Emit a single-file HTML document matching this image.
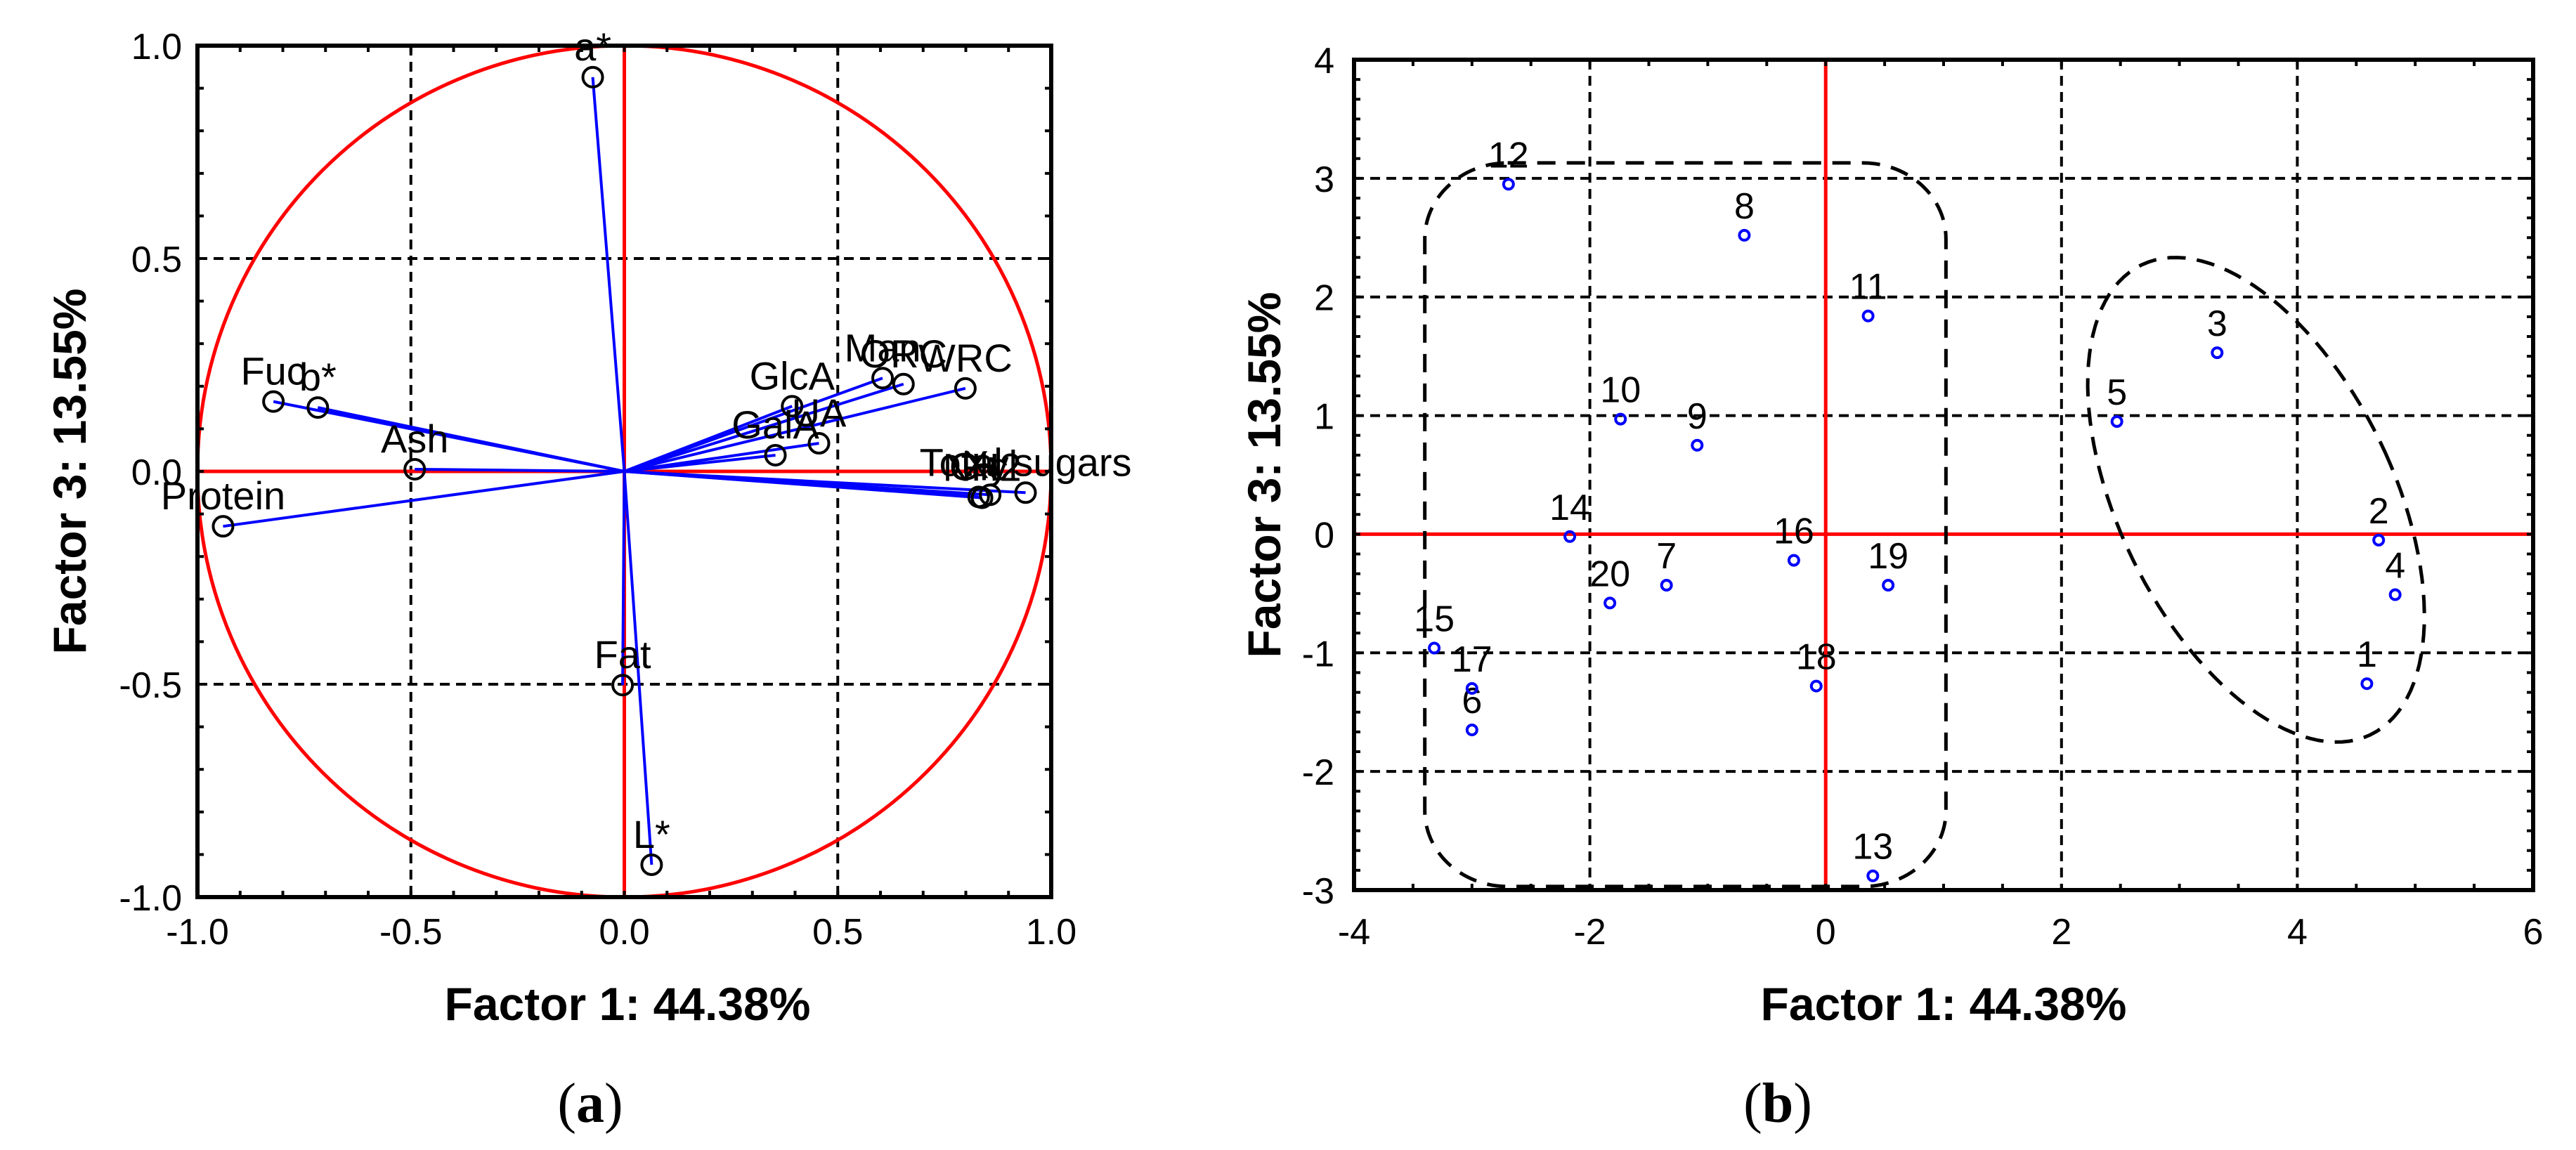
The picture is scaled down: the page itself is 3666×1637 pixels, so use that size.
<!DOCTYPE html>
<html><head><meta charset="utf-8"><style>
html,body{margin:0;padding:0;background:#fff;}
svg{display:block;}
text{font-family:"Liberation Sans",sans-serif;}
</style></head><body>
<svg id="fig" width="3666" height="1637" viewBox="0 0 3666 1637" xmlns="http://www.w3.org/2000/svg">
<g id="pa"></g>
<g id="pb"></g>
<text x="893" y="1452" font-size="66" font-weight="bold" text-anchor="middle">Factor 1: 44.38%</text>
<text x="2766" y="1452" font-size="66" font-weight="bold" text-anchor="middle">Factor 1: 44.38%</text>
<text transform="translate(122,671) rotate(-90)" font-size="66" font-weight="bold" text-anchor="middle">Factor 3: 13.55%</text>
<text transform="translate(1822,676) rotate(-90)" font-size="66" font-weight="bold" text-anchor="middle">Factor 3: 13.55%</text>
<text x="840" y="1597" font-size="80" text-anchor="middle" style="font-family:'Liberation Serif',serif">(<tspan font-weight="bold">a</tspan>)</text>
<text x="2530" y="1597" font-size="80" text-anchor="middle" style="font-family:'Liberation Serif',serif">(<tspan font-weight="bold">b</tspan>)</text>
</svg>
<script>
// ---- Panel A data (loadings) ----
const varNames = ["a*","Fuc","b*","Ash","Protein","Fat","L*","GalA","GlcA","UA","Man","ORC","WRC","Glc","Xyl","NH2","Total sugars"];
const varF1 = [-0.074,-0.822,-0.718,-0.491,-0.940,-0.004,0.064,0.354,0.393,0.456,0.605,0.654,0.799,0.830,0.857,0.838,0.940];
const varF3 = [0.926,0.164,0.150,0.005,-0.129,-0.502,-0.924,0.038,0.153,0.066,0.219,0.205,0.195,-0.060,-0.055,-0.062,-0.050];
const aTicks = [-1.0,-0.5,0.0,0.5,1.0];
const aTickLabels = ["-1.0","-0.5","0.0","0.5","1.0"];
// ---- Panel B data (scores) ----
const obsLabels = ["1","2","3","4","5","6","7","8","9","10","11","12","13","14","15","16","17","18","19","20"];
const obsF1 = [4.59,4.69,3.32,4.83,2.47,-3.00,-1.35,-0.69,-1.09,-1.74,0.36,-2.69,0.40,-2.17,-3.32,-0.27,-3.00,-0.08,0.53,-1.83];
const obsF3 = [-1.26,-0.05,1.53,-0.51,0.95,-1.65,-0.43,2.52,0.75,0.97,1.84,2.95,-2.88,-0.02,-0.96,-0.22,-1.30,-1.28,-0.43,-0.58];
const bXTicks = [-4,-2,0,2,4,6];
const bYTicks = [-3,-2,-1,0,1,2,3,4];

const NS="http://www.w3.org/2000/svg";
function mk(parent,tag,attrs,txt){const e=document.createElementNS(NS,tag);for(const k in attrs)e.setAttribute(k,attrs[k]);if(txt!==undefined)e.textContent=txt;parent.appendChild(e);return e;}

// ===== Panel A =====
const A={x0:281,x1:1496,y0:65,y1:1277};
const ax=v=>A.x0+(v+1)/2*(A.x1-A.x0);
const ay=v=>A.y1-(v+1)/2*(A.y1-A.y0);
const pa=document.getElementById('pa');
[-0.5,0.5].forEach(v=>{
  let l=mk(pa,'line',{x1:ax(v),x2:ax(v),y1:A.y0,y2:A.y1,stroke:'#000','stroke-width':4,'stroke-dasharray':'14 9'});
  
  
  let m=mk(pa,'line',{x1:A.x0,x2:A.x1,y1:ay(v),y2:ay(v),stroke:'#000','stroke-width':4,'stroke-dasharray':'14 9'});
  
  
});
let circ=mk(pa,'ellipse',{cx:ax(0),cy:ay(0),rx:(A.x1-A.x0)/2,ry:(A.y1-A.y0)/2,fill:'none',stroke:'#f00','stroke-width':5});


let zx=mk(pa,'line',{x1:ax(0),x2:ax(0),y1:A.y0,y2:A.y1,stroke:'#f00','stroke-width':5});


let zy=mk(pa,'line',{x1:A.x0,x2:A.x1,y1:ay(0),y2:ay(0),stroke:'#f00','stroke-width':5});


for(let i=-9;i<=9;i++){const v=i/10;
  mk(pa,'line',{x1:ax(v),x2:ax(v),y1:A.y0,y2:A.y0+9,stroke:'#000','stroke-width':4});
  mk(pa,'line',{x1:ax(v),x2:ax(v),y1:A.y1,y2:A.y1-9,stroke:'#000','stroke-width':4});
  mk(pa,'line',{x1:A.x0,x2:A.x0+9,y1:ay(v),y2:ay(v),stroke:'#000','stroke-width':4});
  mk(pa,'line',{x1:A.x1,x2:A.x1-9,y1:ay(v),y2:ay(v),stroke:'#000','stroke-width':4});
}
varNames.forEach((n,i)=>{
  const x=ax(varF1[i]),y=ay(varF3[i]);
  let l=mk(pa,'line',{x1:ax(0),y1:ay(0),x2:x,y2:y,stroke:'#00f','stroke-width':4});
  
  
});
varNames.forEach((n,i)=>{
  const x=ax(varF1[i]),y=ay(varF3[i]);
  let c=mk(pa,'circle',{cx:x,cy:y,r:14,fill:'none',stroke:'#000','stroke-width':4});
  
  
  let t=mk(pa,'text',{x:x,y:y-24,'font-size':56,'text-anchor':'middle'},n);
  
  
});
let fa=mk(pa,'rect',{x:A.x0,y:A.y0,width:A.x1-A.x0,height:A.y1-A.y0,fill:'none',stroke:'#000','stroke-width':6});


aTicks.forEach((v,i)=>{
  let t=mk(pa,'text',{x:ax(v),y:1344,'font-size':52,'text-anchor':'middle'},aTickLabels[i]);
  
  
  let u=mk(pa,'text',{x:A.x0-22,y:ay(v)+19,'font-size':52,'text-anchor':'end'},aTickLabels[i]);
  
  
});

// ===== Panel B =====
const B={x0:1927,x1:3605,y0:85,y1:1267,xmin:-4,xmax:6,ymin:-3,ymax:4};
const bx=v=>B.x0+(v-B.xmin)/(B.xmax-B.xmin)*(B.x1-B.x0);
const by=v=>B.y1-(v-B.ymin)/(B.ymax-B.ymin)*(B.y1-B.y0);
const pb=document.getElementById('pb');
[-2,2,4].forEach(v=>{
  let l=mk(pb,'line',{x1:bx(v),x2:bx(v),y1:B.y0,y2:B.y1,stroke:'#000','stroke-width':4,'stroke-dasharray':'14 9'});
  
  
});
[-2,-1,1,2,3].forEach(v=>{
  let l=mk(pb,'line',{x1:B.x0,x2:B.x1,y1:by(v),y2:by(v),stroke:'#000','stroke-width':4,'stroke-dasharray':'14 9'});
  
  
});
let bz1=mk(pb,'line',{x1:bx(0),x2:bx(0),y1:B.y0,y2:B.y1,stroke:'#f00','stroke-width':5});


let bz2=mk(pb,'line',{x1:B.x0,x2:B.x1,y1:by(0),y2:by(0),stroke:'#f00','stroke-width':5});


for(let v=B.xmin;v<=B.xmax;v+=0.5){
  mk(pb,'line',{x1:bx(v),x2:bx(v),y1:B.y0,y2:B.y0+9,stroke:'#000','stroke-width':4});
  mk(pb,'line',{x1:bx(v),x2:bx(v),y1:B.y1,y2:B.y1-9,stroke:'#000','stroke-width':4});
}
for(let v=B.ymin;v<=B.ymax;v+=1/6){
  mk(pb,'line',{x1:B.x0,x2:B.x0+9,y1:by(v),y2:by(v),stroke:'#000','stroke-width':4});
  mk(pb,'line',{x1:B.x1,x2:B.x1-9,y1:by(v),y2:by(v),stroke:'#000','stroke-width':4});
}
(function(){
  const L=bx(-3.4),R=bx(1.02),T=by(3.13),Bt=by(-2.97),rx=118,ry=108;
  const d=`M${L+rx},${T} H${R-rx} A${rx},${ry} 0 0 1 ${R},${T+ry} V${Bt-ry} A${rx},${ry} 0 0 1 ${R-rx},${Bt} H${L+rx} A${rx},${ry} 0 0 1 ${L},${Bt-ry} V${T+ry} A${rx},${ry} 0 0 1 ${L+rx},${T} Z`;
  let p=mk(pb,'path',{d:d,fill:'none',stroke:'#000','stroke-width':5,'stroke-dasharray':'26 16'});
  
  
})();
(function(){
  const cx=3.65,cy=0.29,a=350,b=170,th=-22*Math.PI/180;let pts=[];
  for(let k=0;k<=120;k++){const t=k/120*2*Math.PI;
    const ux=b*Math.cos(t),uy=a*Math.sin(t);
    const dx=ux*Math.cos(th)-uy*Math.sin(th), dy=ux*Math.sin(th)+uy*Math.cos(th);
    const X=cx+dx/143.6, Y=cy-dy/161.9;
    pts.push(bx(X).toFixed(1)+','+by(Y).toFixed(1));}
  let p=mk(pb,'polyline',{points:pts.join(' '),fill:'none',stroke:'#000','stroke-width':5,'stroke-dasharray':'26 16'});
  
  
})();
obsLabels.forEach((n,i)=>{
  const x=bx(obsF1[i]),y=by(obsF3[i]);
  let c=mk(pb,'circle',{cx:x,cy:y,r:7,fill:'none',stroke:'#00f','stroke-width':4});
  
  
  let t=mk(pb,'text',{x:x,y:y-24,'font-size':52,'text-anchor':'middle'},n);
  
  
});
let fb=mk(pb,'rect',{x:B.x0,y:B.y0,width:B.x1-B.x0,height:B.y1-B.y0,fill:'none',stroke:'#000','stroke-width':6});


bXTicks.forEach(v=>{
  let t=mk(pb,'text',{x:bx(v),y:1344,'font-size':52,'text-anchor':'middle'},String(v));
  
  
});
bYTicks.forEach(v=>{
  let t=mk(pb,'text',{x:B.x0-28,y:by(v)+19,'font-size':52,'text-anchor':'end'},String(v));
  
  
});
</script>
</body></html>
